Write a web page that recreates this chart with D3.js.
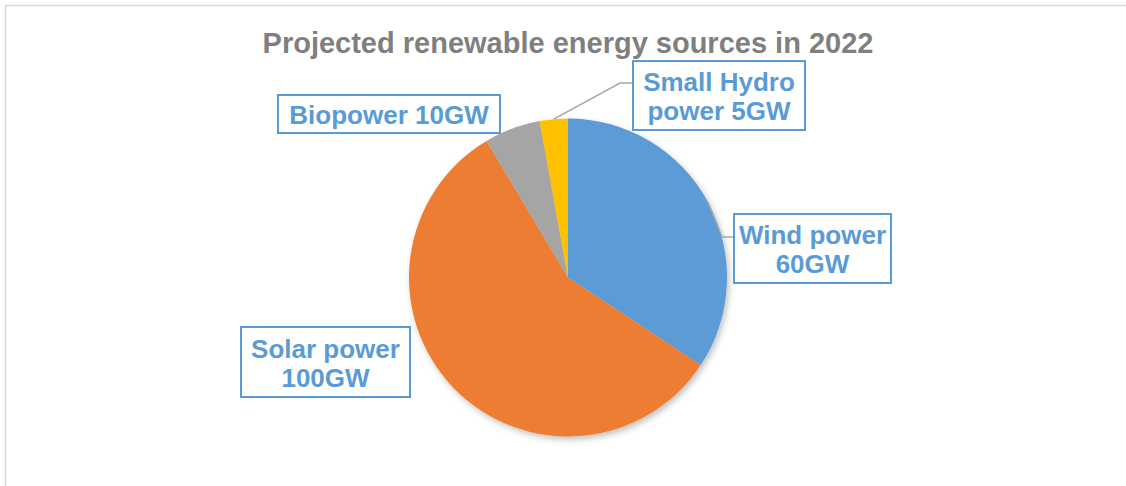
<!DOCTYPE html>
<html>
<head>
<meta charset="utf-8">
<script src="https://cdn.jsdelivr.net/npm/d3@7"></script>
<style>
  html, body { margin: 0; padding: 0; background: #fff; }
  svg { display: block; }
</style>
</head>
<body>
<div id="chart"></div>
<script>
// data
const sources = ['Wind power', 'Solar power', 'Biopower', 'Small Hydro power'];
const capacityGW = [60, 100, 10, 5];
const labelLines = [
  ['Wind power', '60GW'],
  ['Solar power', '100GW'],
  ['Biopower 10GW'],
  ['Small Hydro', 'power 5GW'],
];
const sliceColors = ['#5B9BD5', '#ED7D31', '#A5A5A5', '#FFC000'];

const width = 1126;
const height = 486;
const cx = 568, cy = 277.5, radius = 159;
const font = "'Liberation Sans', Arial, sans-serif";

// label box placement: [box left, box top, box width, box height]
const labelBoxes = [
  [734, 214, 157, 69],
  [241, 327, 169, 70],
  [278, 95, 222, 38],
  [633, 61, 172, 69],
];
const lineHeight = 29;
const labelBlue = '#5B9BD5';

const svg = d3.select('#chart').append('svg')
  .attr('width', width)
  .attr('height', height);

const defs = svg.append('defs');
defs.append('filter')
  .attr('id', 'shadow')
  .attr('x', '-20%').attr('y', '-20%')
  .attr('width', '140%').attr('height', '140%')
  .append('feDropShadow')
  .attr('dx', 2).attr('dy', 3)
  .attr('stdDeviation', 3)
  .attr('flood-color', '#000')
  .attr('flood-opacity', 0.25);

// chart area border (runs off the right and bottom edge)
svg.append('rect')
  .attr('x', 5.5).attr('y', 5.5)
  .attr('width', width + 10).attr('height', height + 10)
  .attr('fill', 'none')
  .attr('stroke', '#D9D9D9')
  .attr('stroke-width', 1.5);

svg.append('text')
  .attr('x', cx)
  .attr('y', 53)
  .attr('text-anchor', 'middle')
  .attr('font-family', font)
  .attr('font-weight', 'bold')
  .attr('font-size', 29)
  .attr('fill', '#7F7F7F')
  .text('Projected renewable energy sources in 2022');

const pie = d3.pie().sort(null).value(d => d);
const arcs = pie(capacityGW);
const arc = d3.arc().innerRadius(0).outerRadius(radius);

const g = svg.append('g').attr('transform', `translate(${cx},${cy})`);

g.append('g')
  .attr('filter', 'url(#shadow)')
  .selectAll('path')
  .data(arcs)
  .join('path')
  .attr('d', arc)
  .attr('fill', (d, i) => sliceColors[i]);

// leader lines for wind and small hydro
const edgePoint = d => {
  const a = (d.startAngle + d.endAngle) / 2;
  return [cx + radius * Math.sin(a), cy - radius * Math.cos(a)];
};
const leaders = [
  { i: 0, bend: [722, 237], end: [734, 237] },
  { i: 3, bend: [620, 83], end: [633, 83] },
];
svg.append('g')
  .selectAll('polyline')
  .data(leaders)
  .join('polyline')
  .attr('points', d => [edgePoint(arcs[d.i]), d.bend, d.end].map(p => p.join(',')).join(' '))
  .attr('fill', 'none')
  .attr('stroke', '#A6A6A6')
  .attr('stroke-width', 1.5);

const labels = svg.append('g')
  .selectAll('g')
  .data(sources)
  .join('g');

labels.append('rect')
  .attr('x', (d, i) => labelBoxes[i][0])
  .attr('y', (d, i) => labelBoxes[i][1])
  .attr('width', (d, i) => labelBoxes[i][2])
  .attr('height', (d, i) => labelBoxes[i][3])
  .attr('fill', '#fff')
  .attr('stroke', labelBlue)
  .attr('stroke-width', 2);

labels.append('text')
  .attr('text-anchor', 'middle')
  .attr('font-family', font)
  .attr('font-weight', 'bold')
  .attr('font-size', 26)
  .attr('fill', labelBlue)
  .each(function(d, i) {
    const [bx, by, bw, bh] = labelBoxes[i];
    const lines = labelLines[i];
    const first = by + bh / 2 - (lines.length - 1) * lineHeight / 2 + 10;
    d3.select(this).selectAll('tspan')
      .data(lines)
      .join('tspan')
      .attr('x', bx + bw / 2)
      .attr('y', (l, k) => first + k * lineHeight)
      .text(l => l);
  });
</script>
</body>
</html>
